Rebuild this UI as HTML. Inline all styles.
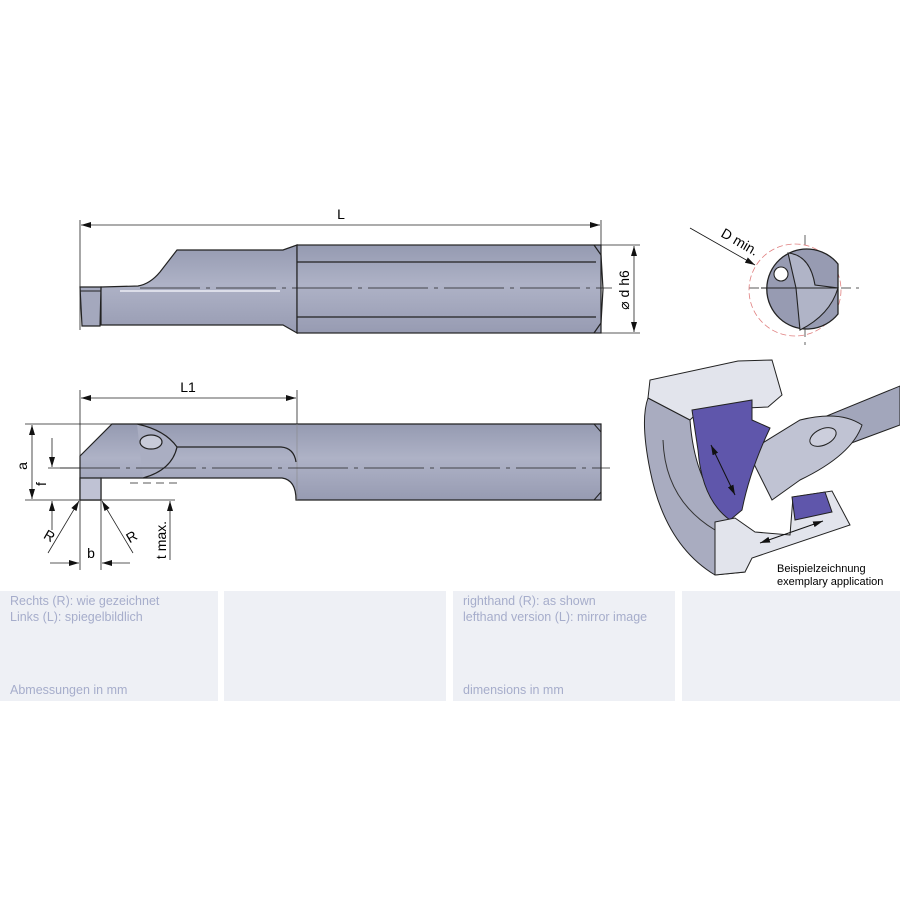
<!DOCTYPE html>
<html><head><meta charset="utf-8"><style>
body{margin:0;background:#fff;width:900px;height:900px;overflow:hidden;font-family:"Liberation Sans",sans-serif}
.p{position:absolute;top:591px;height:110px;background:#eef0f5;color:#a6adcb;font-size:12.5px;line-height:16px}
.p div{position:absolute;left:10px}
</style></head><body>
<svg width="900" height="900" style="position:absolute;left:0;top:0" font-family="Liberation Sans, sans-serif">
<defs>
<linearGradient id="g" x1="0" y1="0" x2="0" y2="1"><stop offset="0" stop-color="#959ab1"/><stop offset="0.45" stop-color="#aeb2c6"/><stop offset="0.6" stop-color="#a8acc1"/><stop offset="1" stop-color="#979bb2"/></linearGradient>
<marker id="a" markerWidth="10" markerHeight="6" refX="10" refY="3" orient="auto-start-reverse" markerUnits="userSpaceOnUse"><path d="M0,0L10,3L0,6z" fill="#111"/></marker>
</defs>
<g stroke="#222" stroke-width="0.8" fill="none">
<line x1="80" y1="220" x2="80" y2="330"/><line x1="601" y1="220" x2="601" y2="245"/>
<line x1="81" y1="225" x2="600" y2="225" marker-start="url(#a)" marker-end="url(#a)"/>
<line x1="601" y1="245" x2="640" y2="245"/><line x1="601" y1="333" x2="640" y2="333"/>
<line x1="634" y1="246" x2="634" y2="332" marker-start="url(#a)" marker-end="url(#a)"/>
</g>
<path d="M101,287 L138,286 Q150,284 160,272 L177,250 L283,250 L297,245 L297,333 L283,325 L101,325 Z" fill="url(#g)" stroke="#222" stroke-width="1.2"/>
<rect x="297" y="245" width="304" height="88" fill="url(#g)" stroke="#222" stroke-width="1.2"/>
<path d="M594,245 L601,255 L603,289 L601,323 L594,333" fill="none" stroke="#222" stroke-width="1.2"/>
<line x1="297" y1="262" x2="596" y2="262" stroke="#222" stroke-width="1.2"/>
<line x1="297" y1="317" x2="596" y2="317" stroke="#222" stroke-width="1.2"/>
<path d="M80,287 L101,287 L100,326 L82,326 Z" fill="#a4a8bd" stroke="#222" stroke-width="1.2"/>
<line x1="80" y1="291" x2="101" y2="291" stroke="#222" stroke-width="1"/>
<line x1="140" y1="288" x2="612" y2="288" stroke="#222" stroke-width="0.7" stroke-dasharray="60,6,4,6"/>
<line x1="120" y1="291" x2="280" y2="291" stroke="#dcdee9" stroke-width="2"/>
<text x="341" y="219" font-size="14" text-anchor="middle">L</text>
<text x="629" y="290" font-size="14" text-anchor="middle" transform="rotate(-90 629 290)">⌀ d h6</text>
<g stroke="#222" stroke-width="0.8" fill="none">
<line x1="80" y1="390" x2="80" y2="570"/><line x1="297" y1="390" x2="297" y2="424"/>
<line x1="81" y1="398" x2="296" y2="398" marker-start="url(#a)" marker-end="url(#a)"/>
<line x1="25" y1="424" x2="112" y2="424"/><line x1="25" y1="500" x2="80" y2="500"/>
<line x1="32" y1="425" x2="32" y2="499" marker-start="url(#a)" marker-end="url(#a)"/>
<line x1="48" y1="468" x2="145" y2="468"/>
<line x1="52" y1="438" x2="52" y2="467" marker-end="url(#a)"/>
<line x1="52" y1="530" x2="52" y2="501" marker-end="url(#a)"/>
<line x1="101" y1="500" x2="101" y2="570"/>
<line x1="50" y1="563" x2="79" y2="563" marker-end="url(#a)"/>
<line x1="130" y1="563" x2="102" y2="563" marker-end="url(#a)"/>
<line x1="48" y1="553" x2="79" y2="501" marker-end="url(#a)"/>
<line x1="133" y1="553" x2="102" y2="501" marker-end="url(#a)"/>
<line x1="170" y1="448" x2="170" y2="477" marker-end="url(#a)"/>
<line x1="170" y1="560" x2="170" y2="501" marker-end="url(#a)"/>
<line x1="101" y1="500" x2="175" y2="500"/>
<line x1="130" y1="483" x2="180" y2="483" stroke-dasharray="8,5"/>
</g>
<path d="M80,456 L112,424 L601,424 L601,500 L296,500 Q296,480 282,478 L101,478 L101,500 L80,500 Z" fill="url(#g)" stroke="#222" stroke-width="1.2"/>
<path d="M80,478 L101,478 L101,500 L80,500 Z" fill="#bfc2d4" stroke="#222" stroke-width="1.2"/>
<path d="M137,424 Q165,430 177,447 Q172,470 143,478" fill="#aaaec2" stroke="#222" stroke-width="1.2"/>
<path d="M177,447 L281,447 Q294,448 296,462" fill="none" stroke="#222" stroke-width="1.2"/>
<ellipse cx="151" cy="442" rx="11" ry="7" fill="#c8cbd9" stroke="#222" stroke-width="1.2"/>
<path d="M594,424 L601,432 L601,492 L594,500" fill="none" stroke="#222" stroke-width="1"/>
<line x1="297" y1="424" x2="297" y2="500" stroke="#888" stroke-width="0.6"/>
<line x1="60" y1="468" x2="610" y2="468" stroke="#222" stroke-width="0.7" stroke-dasharray="60,6,4,6"/>
<text x="188" y="392" font-size="14" text-anchor="middle">L1</text>
<text x="27" y="466" font-size="14" text-anchor="middle" transform="rotate(-90 27 466)">a</text>
<text x="46" y="484" font-size="14" text-anchor="middle" transform="rotate(-90 46 484)">f</text>
<text x="91" y="558" font-size="14" text-anchor="middle">b</text>
<text x="47" y="540" font-size="14" text-anchor="middle" transform="rotate(30 47 540)">R</text>
<text x="134" y="541" font-size="14" text-anchor="middle" transform="rotate(-30 134 541)">R</text>
<text x="166" y="540" font-size="14" text-anchor="middle" transform="rotate(-90 166 540)">t max.</text>
<g stroke="#222" stroke-width="0.7" stroke-dasharray="10,5,3,5"><line x1="749" y1="288" x2="862" y2="288"/><line x1="805" y1="235" x2="805" y2="345"/></g>
<circle cx="795" cy="290" r="46" fill="none" stroke="#e08080" stroke-width="0.8" stroke-dasharray="6,3"/>
<path d="M838,264 A40,40 0 1 0 838,314 Z" fill="#979bb2" stroke="#222" stroke-width="1.3"/>
<path d="M788,253 Q810,255 815,285 L838,288 Q830,315 800,330 L796,288 Z" fill="#b0b4c7" stroke="#222" stroke-width="1.1"/>
<line x1="761" y1="288" x2="838" y2="288" stroke="#222" stroke-width="1.1"/>
<circle cx="781" cy="274" r="7" fill="#fff" stroke="#222" stroke-width="1.1"/>
<line x1="690" y1="228" x2="755" y2="265" stroke="#111" stroke-width="0.8" marker-end="url(#a)"/>
<text x="720" y="236" font-size="14" transform="rotate(30 720 236)">D min.</text>
<path d="M900,386 L900,425 L792,465 L768,440 Z" fill="#a2a6bb" stroke="#222" stroke-width="1"/>
<path d="M748,452 L800,420 Q840,410 862,425 Q852,455 800,480 L772,500 Z" fill="#c0c3d3" stroke="#222" stroke-width="1"/>
<ellipse cx="823" cy="437" rx="14" ry="8" transform="rotate(-25 823 437)" fill="#cccedc" stroke="#222"/>
<path d="M648,398 Q640,420 650,470 Q665,545 715,575 L745,572 L735,520 Q695,490 690,420 Z" fill="#a9acc0" stroke="#222" stroke-width="1"/>
<path d="M663,440 Q665,500 715,530" fill="none" stroke="#333" stroke-width="1"/>
<path d="M648,398 L690,420 L700,410 L768,407 L782,395 L772,360 L738,361 L650,380 Z" fill="#e2e4ec" stroke="#222" stroke-width="1"/>
<path d="M692,410 L752,400 L752,420 L770,428 Q750,470 742,510 L730,520 Q702,500 698,450 Z" fill="#5f56ab" stroke="#222" stroke-width="1"/>
<path d="M715,522 L735,518 L755,532 L790,535 L793,497 L832,491 L850,525 L752,558 L745,572 L715,575 Z" fill="#e2e4ec" stroke="#222" stroke-width="1"/>
<path d="M792,497 L825,492 L832,512 L795,520 Z" fill="#5f56ab" stroke="#222"/>
<line x1="711" y1="445" x2="735" y2="495" stroke="#111" marker-start="url(#a)" marker-end="url(#a)"/>
<line x1="760" y1="543" x2="823" y2="521" stroke="#111" marker-start="url(#a)" marker-end="url(#a)"/>
<text x="777" y="572" font-size="11">Beispielzeichnung</text>
<text x="777" y="585" font-size="11">exemplary application</text>
</svg>
<div class="p" style="left:0;width:218px"><div style="top:2px">Rechts (R): wie gezeichnet<br>Links (L): spiegelbildlich</div><div style="top:91px">Abmessungen in mm</div></div>
<div class="p" style="left:224px;width:222px"></div>
<div class="p" style="left:453px;width:222px"><div style="top:2px">righthand (R): as shown<br>lefthand version (L): mirror image</div><div style="top:91px">dimensions in mm</div></div>
<div class="p" style="left:682px;width:218px"></div>
</body></html>
